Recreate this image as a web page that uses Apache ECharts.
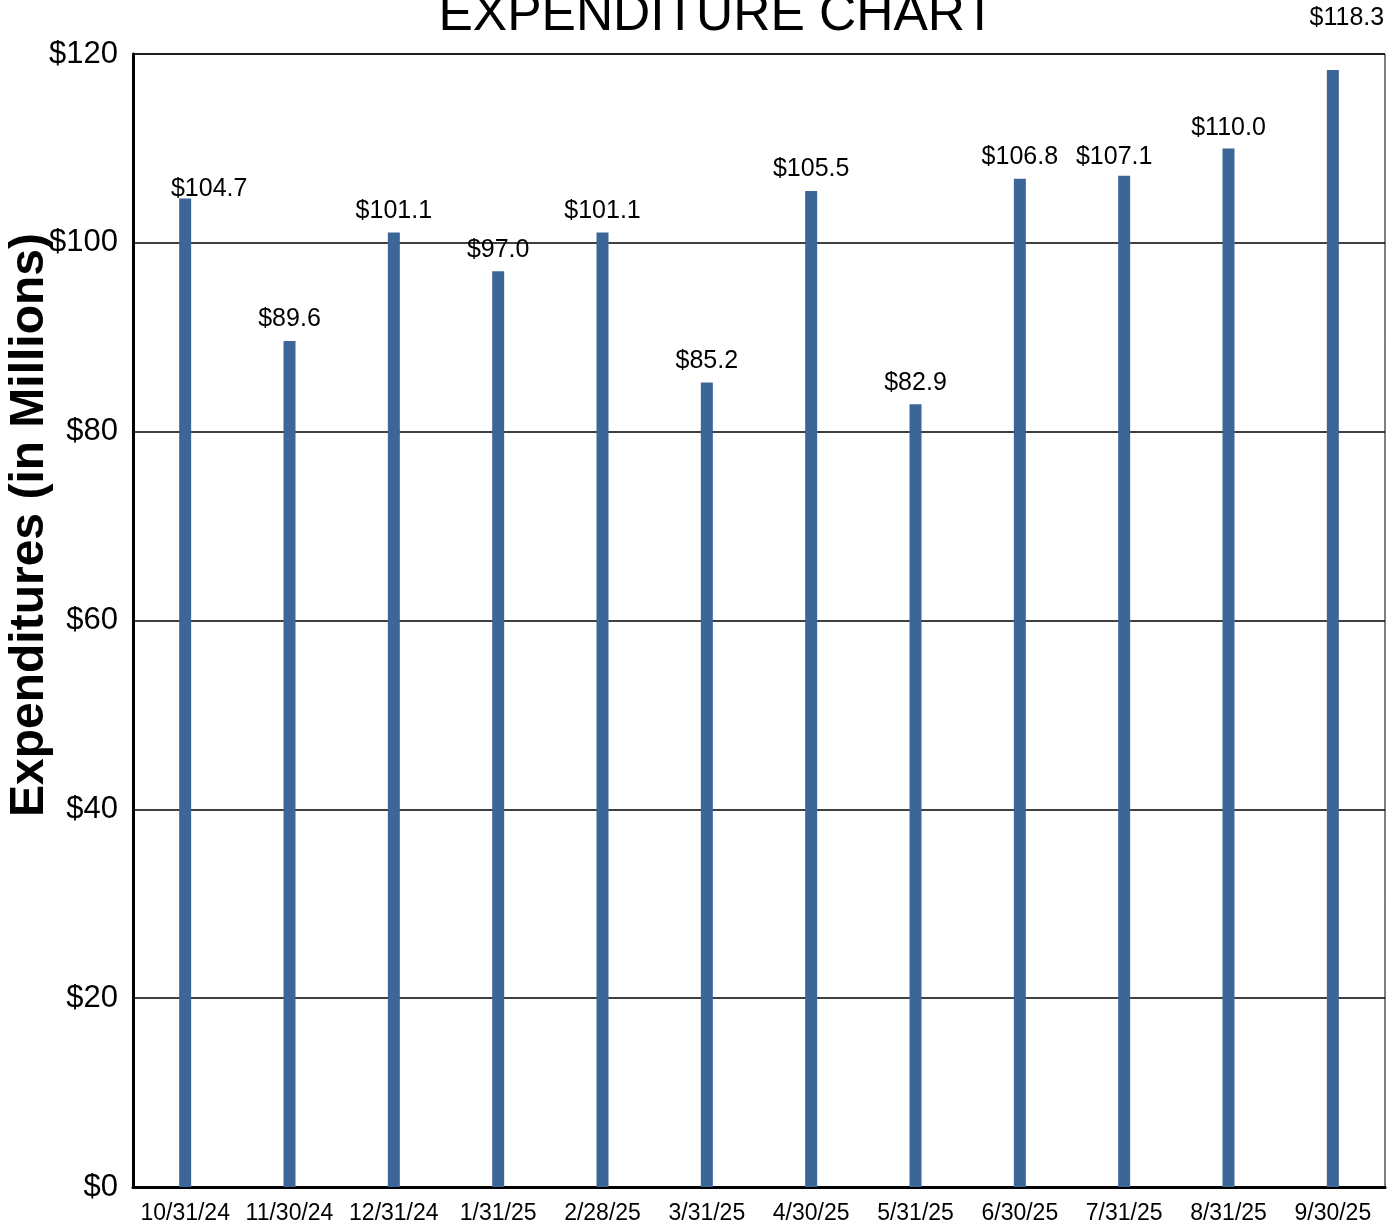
<!DOCTYPE html>
<html><head><meta charset="utf-8">
<script src="https://cdn.jsdelivr.net/npm/echarts@6/dist/echarts.min.js"></script>
<style>html,body{margin:0;padding:0;background:#fff}#c{width:1400px;height:1230px}</style>
</head><body><div id="c"></div>
<script>
const categories = ['10/31/24','11/30/24','12/31/24','1/31/25','2/28/25','3/31/25','4/30/25','5/31/25','6/30/25','7/31/25','8/31/25','9/30/25'];
const values = [104.7, 89.6, 101.1, 97.0, 101.1, 85.2, 105.5, 82.9, 106.8, 107.1, 110.0, 118.3];
const yTicks = [0, 20, 40, 60, 80, 100, 120];
const titleText = 'EXPENDITURE CHART';
const yAxisName = 'Expenditures (in Millions)';

const FONT = '"Liberation Sans", Arial, Helvetica, sans-serif';
const labelOffsets = {0: [24, 12], 9: [-10, 3], 10: [0, 1], 11: [14, -30]};

const chart = echarts.init(document.getElementById('c'));
chart.setOption({
  backgroundColor: '#fff',
  animation: false,
  title: {
    text: titleText, left: 712, top: -15, textAlign: 'center',
    textStyle: {fontFamily: FONT, fontSize: 51.5, fontWeight: 'normal', color: '#000'}
  },
  grid: {left: 133, right: 15, top: 54, bottom: 43, show: true, borderColor: '#000', borderWidth: 1, containLabel: false},
  xAxis: {
    type: 'category', data: categories,
    axisLine: {lineStyle: {color: '#000', width: 3}},
    axisTick: {show: false},
    axisLabel: {fontFamily: FONT, fontSize: 23, color: '#000', margin: 15, interval: 0}
  },
  yAxis: {
    type: 'value', min: yTicks[0], max: yTicks[yTicks.length - 1], interval: 20,
    axisLine: {show: true, lineStyle: {color: '#000', width: 3}},
    axisTick: {show: false},
    splitLine: {lineStyle: {color: '#000', width: 1.5}},
    axisLabel: {fontFamily: FONT, fontSize: 31, color: '#000', margin: 15, formatter: v => '$' + v}
  },
  graphic: [{
    type: 'text', x: 30, y: 525, rotation: Math.PI / 2,
    style: {text: yAxisName, font: 'bold 48px ' + FONT, fill: '#000', align: 'center', verticalAlign: 'middle'}
  }],
  series: [{
    type: 'bar', barWidth: 12,
    itemStyle: {color: '#3C6698'},
    data: values.map((v, i) => ({
      value: v,
      label: labelOffsets[i] ? {offset: labelOffsets[i]} : undefined
    })),
    label: {
      show: true, position: 'top', distance: 9,
      fontFamily: FONT, fontSize: 25, color: '#000',
      formatter: p => '$' + p.value.toFixed(1)
    }
  }]
});
</script></body></html>
